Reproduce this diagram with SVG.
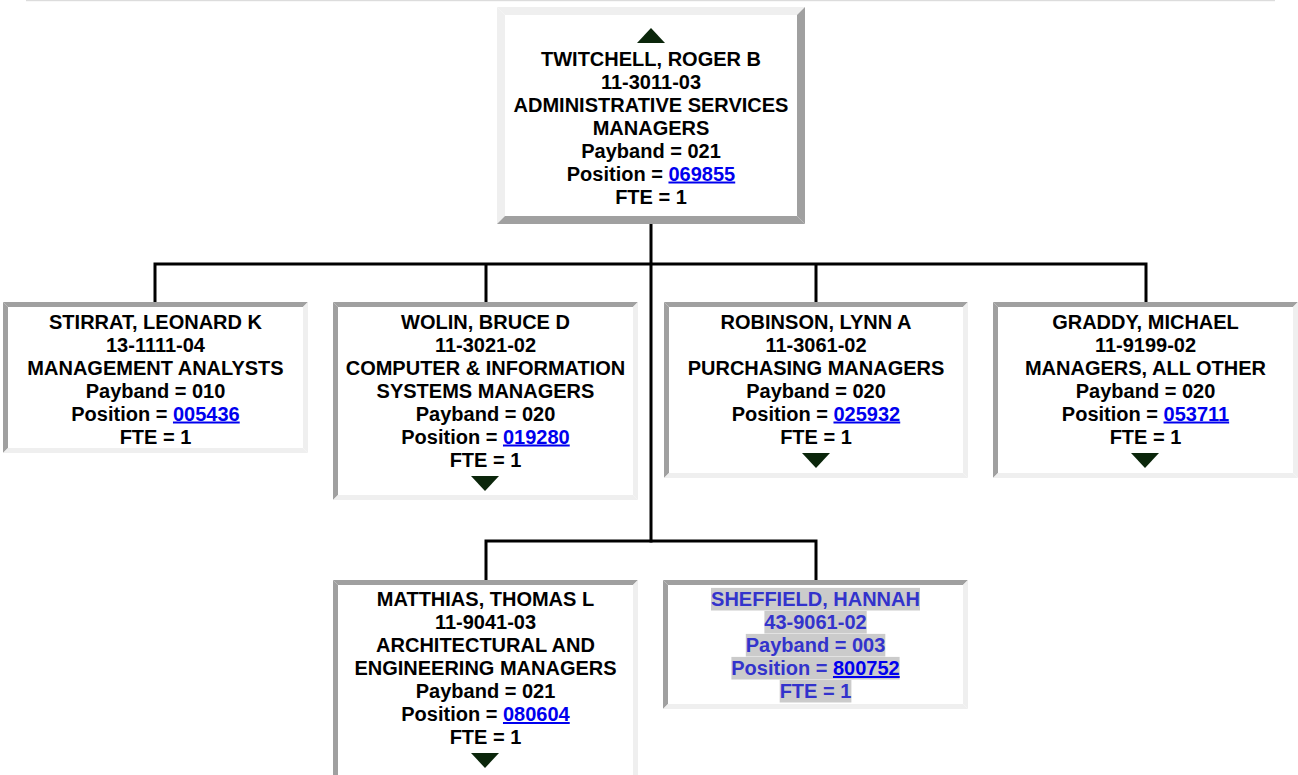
<svg xmlns="http://www.w3.org/2000/svg" width="1298" height="775" viewBox="0 0 1298 775">
<style>
.t{font-family:"Liberation Sans",Arial,Helvetica,sans-serif;font-weight:bold;font-size:20px;text-anchor:middle;fill:#000}
.s{fill:#3333cc}
.lnk{fill:#0000ee;text-decoration:underline}
.dk{fill:#a0a0a0}
.lt{fill:#efefef}
.bg{fill:#fff}
.hl{fill:#cbcbcb}
.arw{fill:#0b260b}
.con{stroke:#000;stroke-width:3;fill:none;stroke-linecap:square}
</style>
<rect x="0" y="0" width="1298" height="775" fill="#fff"/>
<rect x="26" y="0" width="1249" height="1.2" fill="#dcdcdc"/>

<g id="connectors">
<path class="con" d="M651,224 V541"/>
<path class="con" d="M155,264 H1146 M155,264 V302 M486,264 V302 M816,264 V302 M1146,264 V302"/>
<path class="con" d="M486,541 H816 M486,541 V580 M816,541 V580"/>
</g>

<g id="node-twitchell">
<rect class="bg" x="497" y="7" width="308" height="217"/>
<polygon class="lt" points="497,7 805,7 797,15 505,15"/>
<polygon class="lt" points="497,7 505,15 505,216 497,224"/>
<polygon class="dk" points="805,7 805,224 797,216 797,15"/>
<polygon class="dk" points="497,224 805,224 797,216 505,216"/>
<polygon class="arw" points="651,28 665,43 637,43"/>
<text class="t" x="651" y="65.5">TWITCHELL, ROGER B</text>
<text class="t" x="651" y="88.5">11-3011-03</text>
<text class="t" x="651" y="111.5">ADMINISTRATIVE SERVICES</text>
<text class="t" x="651" y="134.5">MANAGERS</text>
<text class="t" x="651" y="157.5">Payband = 021</text>
<text class="t" x="651" y="180.5">Position = <tspan class="lnk">069855</tspan></text>
<text class="t" x="651" y="203.5">FTE = 1</text>
</g>

<g id="node-stirrat">
<rect class="bg" x="3" y="302" width="305" height="151"/>
<polygon class="dk" points="3,302 308,302 303,307 8,307"/>
<polygon class="dk" points="3,302 8,307 8,448 3,453"/>
<polygon class="lt" points="308,302 308,453 303,448 303,307"/>
<polygon class="lt" points="3,453 308,453 303,448 8,448"/>
<text class="t" x="155.5" y="328.5">STIRRAT, LEONARD K</text>
<text class="t" x="155.5" y="351.5">13-1111-04</text>
<text class="t" x="155.5" y="374.5">MANAGEMENT ANALYSTS</text>
<text class="t" x="155.5" y="397.5">Payband = 010</text>
<text class="t" x="155.5" y="420.5">Position = <tspan class="lnk">005436</tspan></text>
<text class="t" x="155.5" y="443.5">FTE = 1</text>
</g>

<g id="node-wolin">
<rect class="bg" x="333" y="302" width="305" height="198"/>
<polygon class="dk" points="333,302 638,302 633,307 338,307"/>
<polygon class="dk" points="333,302 338,307 338,495 333,500"/>
<polygon class="lt" points="638,302 638,500 633,495 633,307"/>
<polygon class="lt" points="333,500 638,500 633,495 338,495"/>
<text class="t" x="485.5" y="328.5">WOLIN, BRUCE D</text>
<text class="t" x="485.5" y="351.5">11-3021-02</text>
<text class="t" x="485.5" y="374.5">COMPUTER &amp; INFORMATION</text>
<text class="t" x="485.5" y="397.5">SYSTEMS MANAGERS</text>
<text class="t" x="485.5" y="420.5">Payband = 020</text>
<text class="t" x="485.5" y="443.5">Position = <tspan class="lnk">019280</tspan></text>
<text class="t" x="485.5" y="466.5">FTE = 1</text>
<polygon class="arw" points="471,476 499,476 485,491"/>
</g>

<g id="node-robinson">
<rect class="bg" x="664" y="302" width="304" height="176"/>
<polygon class="dk" points="664,302 968,302 963,307 669,307"/>
<polygon class="dk" points="664,302 669,307 669,473 664,478"/>
<polygon class="lt" points="968,302 968,478 963,473 963,307"/>
<polygon class="lt" points="664,478 968,478 963,473 669,473"/>
<text class="t" x="816" y="328.5">ROBINSON, LYNN A</text>
<text class="t" x="816" y="351.5">11-3061-02</text>
<text class="t" x="816" y="374.5">PURCHASING MANAGERS</text>
<text class="t" x="816" y="397.5">Payband = 020</text>
<text class="t" x="816" y="420.5">Position = <tspan class="lnk">025932</tspan></text>
<text class="t" x="816" y="443.5">FTE = 1</text>
<polygon class="arw" points="802,453 830,453 816,468"/>
</g>

<g id="node-graddy">
<rect class="bg" x="993" y="302" width="305" height="176"/>
<polygon class="dk" points="993,302 1298,302 1293,307 998,307"/>
<polygon class="dk" points="993,302 998,307 998,473 993,478"/>
<polygon class="lt" points="1298,302 1298,478 1293,473 1293,307"/>
<polygon class="lt" points="993,478 1298,478 1293,473 998,473"/>
<text class="t" x="1145.5" y="328.5">GRADDY, MICHAEL</text>
<text class="t" x="1145.5" y="351.5">11-9199-02</text>
<text class="t" x="1145.5" y="374.5">MANAGERS, ALL OTHER</text>
<text class="t" x="1145.5" y="397.5">Payband = 020</text>
<text class="t" x="1145.5" y="420.5">Position = <tspan class="lnk">053711</tspan></text>
<text class="t" x="1145.5" y="443.5">FTE = 1</text>
<polygon class="arw" points="1131,453 1159,453 1145,468"/>
</g>

<g id="node-matthias">
<rect class="bg" x="333" y="580" width="305" height="200"/>
<polygon class="dk" points="333,580 638,580 633,585 338,585"/>
<polygon class="dk" points="333,580 338,585 338,780 333,780"/>
<polygon class="lt" points="638,580 638,780 633,780 633,585"/>
<text class="t" x="485.5" y="606">MATTHIAS, THOMAS L</text>
<text class="t" x="485.5" y="629">11-9041-03</text>
<text class="t" x="485.5" y="652">ARCHITECTURAL AND</text>
<text class="t" x="485.5" y="675">ENGINEERING MANAGERS</text>
<text class="t" x="485.5" y="698">Payband = 021</text>
<text class="t" x="485.5" y="721">Position = <tspan class="lnk">080604</tspan></text>
<text class="t" x="485.5" y="744">FTE = 1</text>
<polygon class="arw" points="471,753 499,753 485,768"/>
</g>

<g id="node-sheffield">
<rect class="bg" x="663" y="580" width="305" height="129"/>
<polygon class="dk" points="663,580 968,580 963,585 668,585"/>
<polygon class="dk" points="663,580 668,585 668,704 663,709"/>
<polygon class="lt" points="968,580 968,709 963,704 963,585"/>
<polygon class="lt" points="663,709 968,709 963,704 668,704"/>
<rect class="hl" x="711" y="587.9" width="209" height="22.6"/>
<rect class="hl" x="764.4" y="610.9" width="102.3" height="22.6"/>
<rect class="hl" x="745.8" y="633.9" width="139.5" height="22.6"/>
<rect class="hl" x="731.4" y="656.9" width="168.2" height="22.6"/>
<rect class="hl" x="779.7" y="679.9" width="71.7" height="22.6"/>
<text class="t s" x="815.5" y="606">SHEFFIELD, HANNAH</text>
<text class="t s" x="815.5" y="629">43-9061-02</text>
<text class="t s" x="815.5" y="652">Payband = 003</text>
<text class="t s" x="815.5" y="675">Position = <tspan class="lnk">800752</tspan></text>
<text class="t s" x="815.5" y="698">FTE = 1</text>
</g>
</svg>
